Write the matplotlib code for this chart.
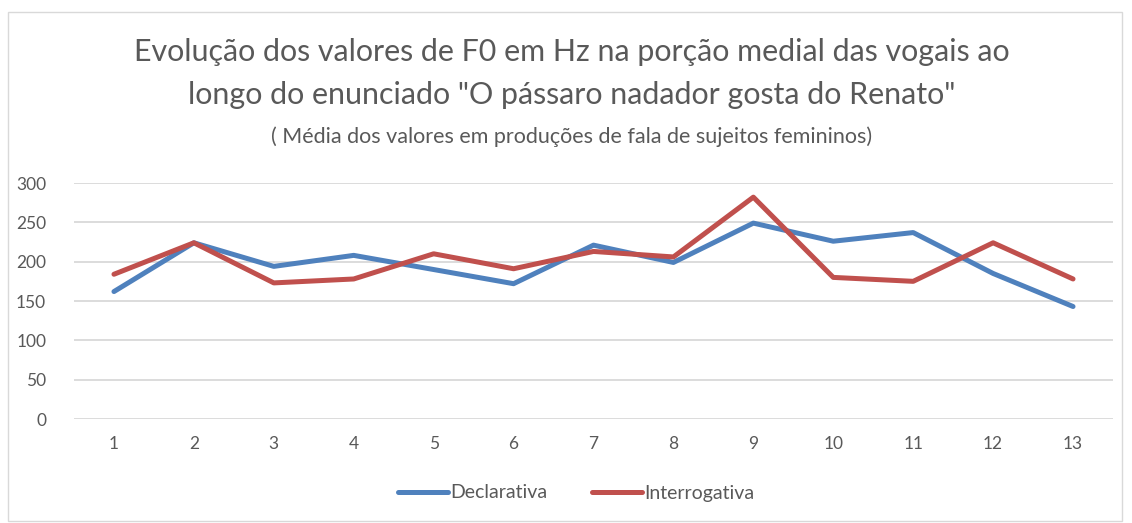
import matplotlib
matplotlib.use("Agg")
import matplotlib.pyplot as plt
from matplotlib.patches import Rectangle

categories = [str(i) for i in range(1, 14)]
declarativa = [162, 224, 194, 208, 190, 172, 221, 199, 249, 226, 237, 185, 143]
interrogativa = [184, 224, 173, 178, 210, 191, 213, 206, 282, 180, 175, 224, 178]
yticks = [0, 50, 100, 150, 200, 250, 300]

plt.rcParams['font.family'] = ['Lato', 'DejaVu Sans']
W, H = 1132, 523
fig = plt.figure(figsize=(W / 100, H / 100), dpi=100)

fig.patches.append(Rectangle((8 / W, 1 - 521 / H), (1122 - 8) / W, (521 - 12) / H,
                             transform=fig.transFigure, fill=False,
                             edgecolor='#d9d9d9', linewidth=1))

ax = fig.add_axes([74 / W, 1 - 419 / H, (1113 - 74) / W, (419 - 183) / H])
x = list(range(len(categories)))
ax.plot(x, declarativa, color='#4f81bd', lw=3.6, solid_capstyle='round', label='Declarativa')
ax.plot(x, interrogativa, color='#c0504d', lw=3.6, solid_capstyle='round', label='Interrogativa')
ax.set_xlim(-0.5, len(categories) - 0.5)
ax.set_ylim(0, 300)
ax.set_yticks(yticks)
ax.set_xticks(x)
ax.set_xticklabels(categories)
ax.grid(axis='y', color='#d9d9d9', lw=1.3)
ax.set_axisbelow(True)
for s in ax.spines.values():
    s.set_visible(False)
ax.tick_params(length=0, labelsize=12.5, colors='#595959', pad=12)
ax.tick_params(axis='y', pad=20)

fig.text(572 / W, 1 - 52 / H, 'Evolução dos valores de F0 em Hz na porção medial das vogais ao',
         ha='center', va='center', fontsize=21.9, color='#595959')
fig.text(572 / W, 1 - 95 / H, 'longo do enunciado "O pássaro nadador gosta do Renato"',
         ha='center', va='center', fontsize=21.9, color='#595959')
fig.text(572 / W, 1 - 137 / H, '( Média dos valores em produções de fala de sujeitos femininos)',
         ha='center', va='center', fontsize=15.5, color='#595959')

fig.legend(loc='center', bbox_to_anchor=(576 / W, 1 - 493 / H), ncol=2, frameon=False,
           fontsize=14, labelcolor='#595959', handlelength=2.6, handletextpad=0.1,
           columnspacing=2.3)

fig.savefig('out.png', dpi=100)
